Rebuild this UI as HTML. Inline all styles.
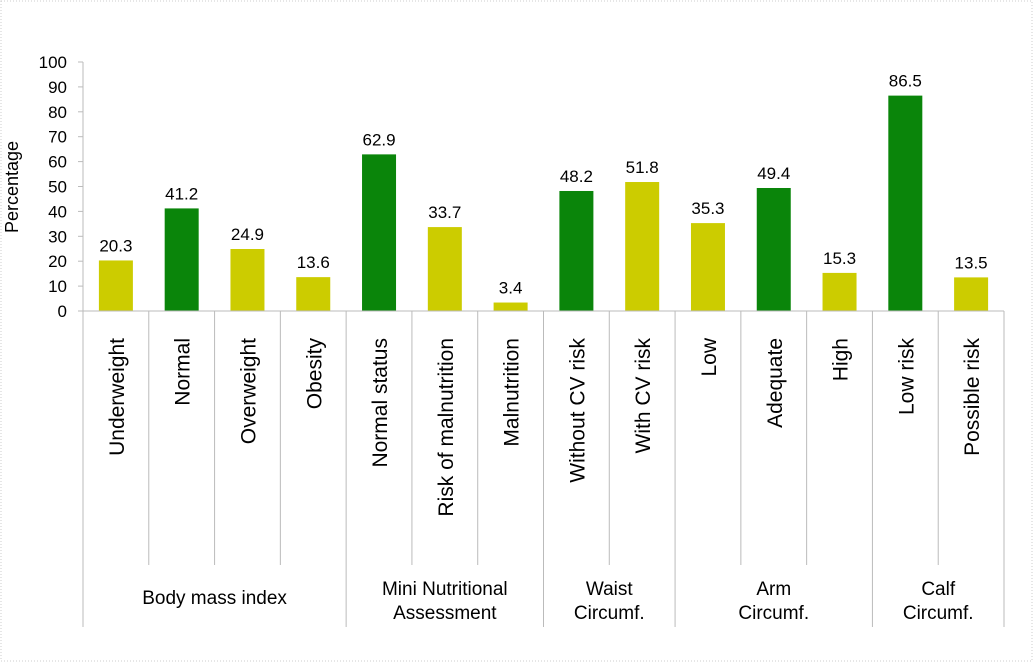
<!DOCTYPE html>
<html><head><meta charset="utf-8"><style>
body{margin:0;background:#fff;}
svg{display:block;font-family:"Liberation Sans",Arial,sans-serif;}
</style></head><body>
<svg id="c" width="1033" height="662">
<rect x="1" y="1" width="1031" height="660" fill="#fff" stroke="#ccc" stroke-dasharray="1,2"/>
<g id="g"></g>
</svg>
<script>
const categories=["Underweight","Normal","Overweight","Obesity","Normal status","Risk of malnutrition","Malnutrition","Without CV risk","With CV risk","Low","Adequate","High","Low risk","Possible risk"];
const values=[20.3,41.2,24.9,13.6,62.9,33.7,3.4,48.2,51.8,35.3,49.4,15.3,86.5,13.5];
const highlight=[0,1,0,0,1,0,0,1,0,0,1,0,1,0];
const groupNames=[["Body mass index"],["Mini Nutritional","Assessment"],["Waist","Circumf."],["Arm","Circumf."],["Calf","Circumf."]];
const groupSizes=[4,3,2,3,2];
const yTicks=[0,10,20,30,40,50,60,70,80,90,100];
const NS="http://www.w3.org/2000/svg",g=document.getElementById('g');
const X0=83,X1=1004,Y0=311,Y1=62,cw=(X1-X0)/categories.length;
const y=v=>Y0-(v/100)*(Y0-Y1), x=i=>X0+i*cw;
function mk(t,a,txt){const e=document.createElementNS(NS,t);for(const k in a)e.setAttribute(k,a[k]);if(txt!=null)e.textContent=txt;g.appendChild(e);return e;}
yTicks.forEach(t=>{
 const l=mk('line',{x1:X0-5,x2:X0,y1:y(t),y2:y(t),stroke:'#bbb'});
 
 
 const e=mk('text',{x:67,y:y(t)+6,'text-anchor':'end','font-size':17,fill:'#000'},t);
 
 
});
const ya=mk('line',{x1:X0,x2:X0,y1:Y1,y2:Y0,stroke:'#bbb'});


const yt=mk('text',{x:0,y:0,transform:'translate(18,187) rotate(-90)','text-anchor':'middle','font-size':18},'Percentage');


categories.forEach((c,i)=>{
 const cx=x(i)+cw/2,v=values[i];
 const b=mk('rect',{x:cx-17,y:y(v),width:34,height:Y0-y(v),fill:highlight[i]?'#0a850a':'#cccc00'});
 
 
 const vl=mk('text',{x:cx,y:y(v)-9,'text-anchor':'middle','font-size':17},v.toFixed(1));
 
 
 const cl=mk('text',{x:0,y:0,transform:`translate(${cx+8},338) rotate(-90)`,'text-anchor':'end','font-size':21},c);
 
 
});
const xa=mk('line',{x1:X0,x2:X1,y1:Y0,y2:Y0,stroke:'#bbb'});


let idx=0;
const ends=[0];
groupSizes.forEach(s=>{idx+=s;ends.push(idx);});
for(let i=0;i<=categories.length;i++){
 const outer=ends.includes(i);
 const l=mk('line',{x1:x(i),x2:x(i),y1:Y0,y2:outer?627:565,stroke:'#bbb'});
 
 
}
groupNames.forEach((n,k)=>{
 const cx=(x(ends[k])+x(ends[k+1]))/2;
 n.forEach((line,j)=>{
  const ty=n.length===1?604:595+j*24;
  const e=mk('text',{x:cx,y:ty,'text-anchor':'middle','font-size':19},line);
  
  
 });
});
</script>
</body></html>
